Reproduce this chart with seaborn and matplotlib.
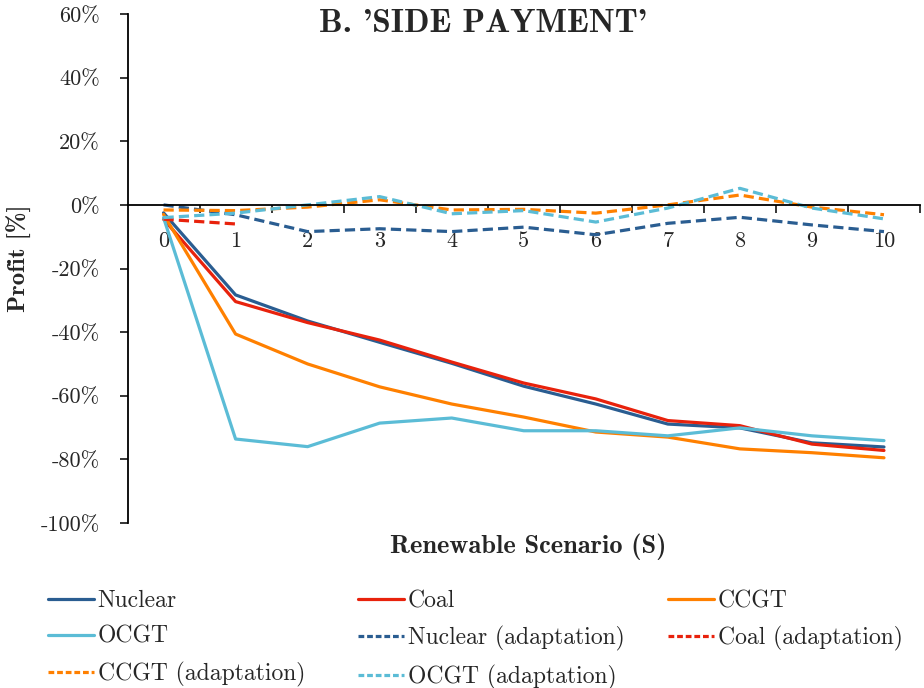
import matplotlib
matplotlib.use("Agg")

import seaborn as sns
from matplotlib import pyplot as plt
from matplotlib.lines import Line2D

# Renewable scenario index (S) on the x axis
scenarios = list(range(11))

# Profit change in percent
nuclear = [-2.5, -28.3, -36.5, -43.2, -49.8, -57.0, -62.6, -68.9, -70.1, -74.8, -76.1]
coal = [-4.5, -30.4, -37.0, -42.5, -49.4, -56.0, -61.0, -67.8, -69.4, -75.2, -77.2]
ccgt = [-3.0, -40.6, -50.0, -57.2, -62.6, -66.7, -71.4, -73.0, -76.7, -77.9, -79.5]
ocgt = [-4.0, -73.6, -76.0, -68.6, -67.0, -71.0, -71.0, -72.6, -70.1, -72.6, -74.1]
nuclear_adapt = [0.0, -3.1, -8.4, -7.5, -8.4, -7.0, -9.4, -5.8, -3.9, -6.3, -8.4]
coal_adapt = [-4.5, -6.0]
ccgt_adapt = [-1.6, -1.8, -0.7, 1.6, -1.6, -1.4, -2.6, 0.0, 3.1, -0.7, -3.1]
ocgt_adapt = [-4.0, -2.6, 0.0, 2.6, -2.8, -1.8, -5.4, -1.0, 5.2, -1.0, -4.4]

y_ticks = [60, 40, 20, 0, -20, -40, -60, -80, -100]
y_labels = [f"{t}%" for t in y_ticks]

C_NUC = "#2A5D91"
C_COAL = "#E8220C"
C_CCGT = "#FF8000"
C_OCGT = "#5BBCD6"

series = [
    ("Nuclear", nuclear, C_NUC, False),
    ("Coal", coal, C_COAL, False),
    ("CCGT", ccgt, C_CCGT, False),
    ("OCGT", ocgt, C_OCGT, False),
    ("Nuclear (adaptation)", nuclear_adapt, C_NUC, True),
    ("Coal (adaptation)", coal_adapt, C_COAL, True),
    ("CCGT (adaptation)", ccgt_adapt, C_CCGT, True),
    ("OCGT (adaptation)", ocgt_adapt, C_OCGT, True),
]

sns.set_style("white")
plt.rcParams["font.family"] = ["cmr10", "DejaVu Serif"]
plt.rcParams["axes.unicode_minus"] = False
BOLD = ["cmb10", "DejaVu Serif"]

W, H = 924, 688
fig = plt.figure(figsize=(W / 100, H / 100), dpi=100)
ax = fig.add_axes([127.5 / W, 1 - 523 / H, (920 - 127.5) / W, (523 - 14) / H])

dash = (3.2, 1.6)
for label, vals, color, dashed in series:
    sns.lineplot(x=scenarios[:len(vals)], y=vals, color=color, lw=2.3,
                 ax=ax, legend=False)
    if dashed:
        ax.lines[-1].set_dashes(dash)

ax.set_xlim(-0.5, 10.37)
ax.set_ylim(-100, 60)

# y axis on the left, x axis through zero
for s in ["top", "right"]:
    ax.spines[s].set_visible(False)
ax.spines["bottom"].set_position(("data", 0))
for s in ["left", "bottom"]:
    ax.spines[s].set_color("black")
    ax.spines[s].set_linewidth(1.3)

ax.set_yticks(y_ticks)
ax.set_yticklabels(y_labels)
ax.tick_params(axis="y", direction="out", length=6, width=1.3, pad=14,
               labelsize=16, left=True)

ax.set_xticks(scenarios)
ax.set_xticklabels([str(s) for s in scenarios])
ax.set_xticks([s + 0.5 for s in scenarios], minor=True)
ax.tick_params(axis="x", which="major", length=0, pad=19, labelsize=16)
ax.tick_params(axis="x", which="minor", direction="out", length=6, width=1.3,
               bottom=True)

ax.set_xlabel("Renewable Scenario (S)", fontsize=19, family=BOLD)
ax.xaxis.set_label_coords((528 - 127.5) / 792.5, -0.02)
ax.set_ylabel("Profit [%]", fontsize=18, family=BOLD)
ax.yaxis.set_label_coords(-0.12, 0.52)
ax.grid(False)

fig.text(483 / W, 1 - 23 / H, "B. 'SIDE PAYMENT'", ha="center", va="center",
         fontsize=24, family=BOLD)

# legend laid out as three fixed columns, filled row by row
cols = [[0, 3, 6], [1, 4, 7], [2, 5]]
col_x = [48, 358, 668]
for idx, x0 in zip(cols, col_x):
    handles = []
    for i in idx:
        label, _, color, dashed = series[i]
        h = Line2D([], [], color=color, lw=2.3, label=label)
        if dashed:
            h.set_dashes((1.8, 0.9))
        handles.append(h)
    fig.legend(handles=handles, loc="upper left",
               bbox_to_anchor=(x0 / W, 1 - 590 / H), frameon=False,
               fontsize=17, handlelength=1.95, handletextpad=0.15,
               labelspacing=0.58, borderpad=0, borderaxespad=0)

fig.savefig("out.png", dpi=100)
